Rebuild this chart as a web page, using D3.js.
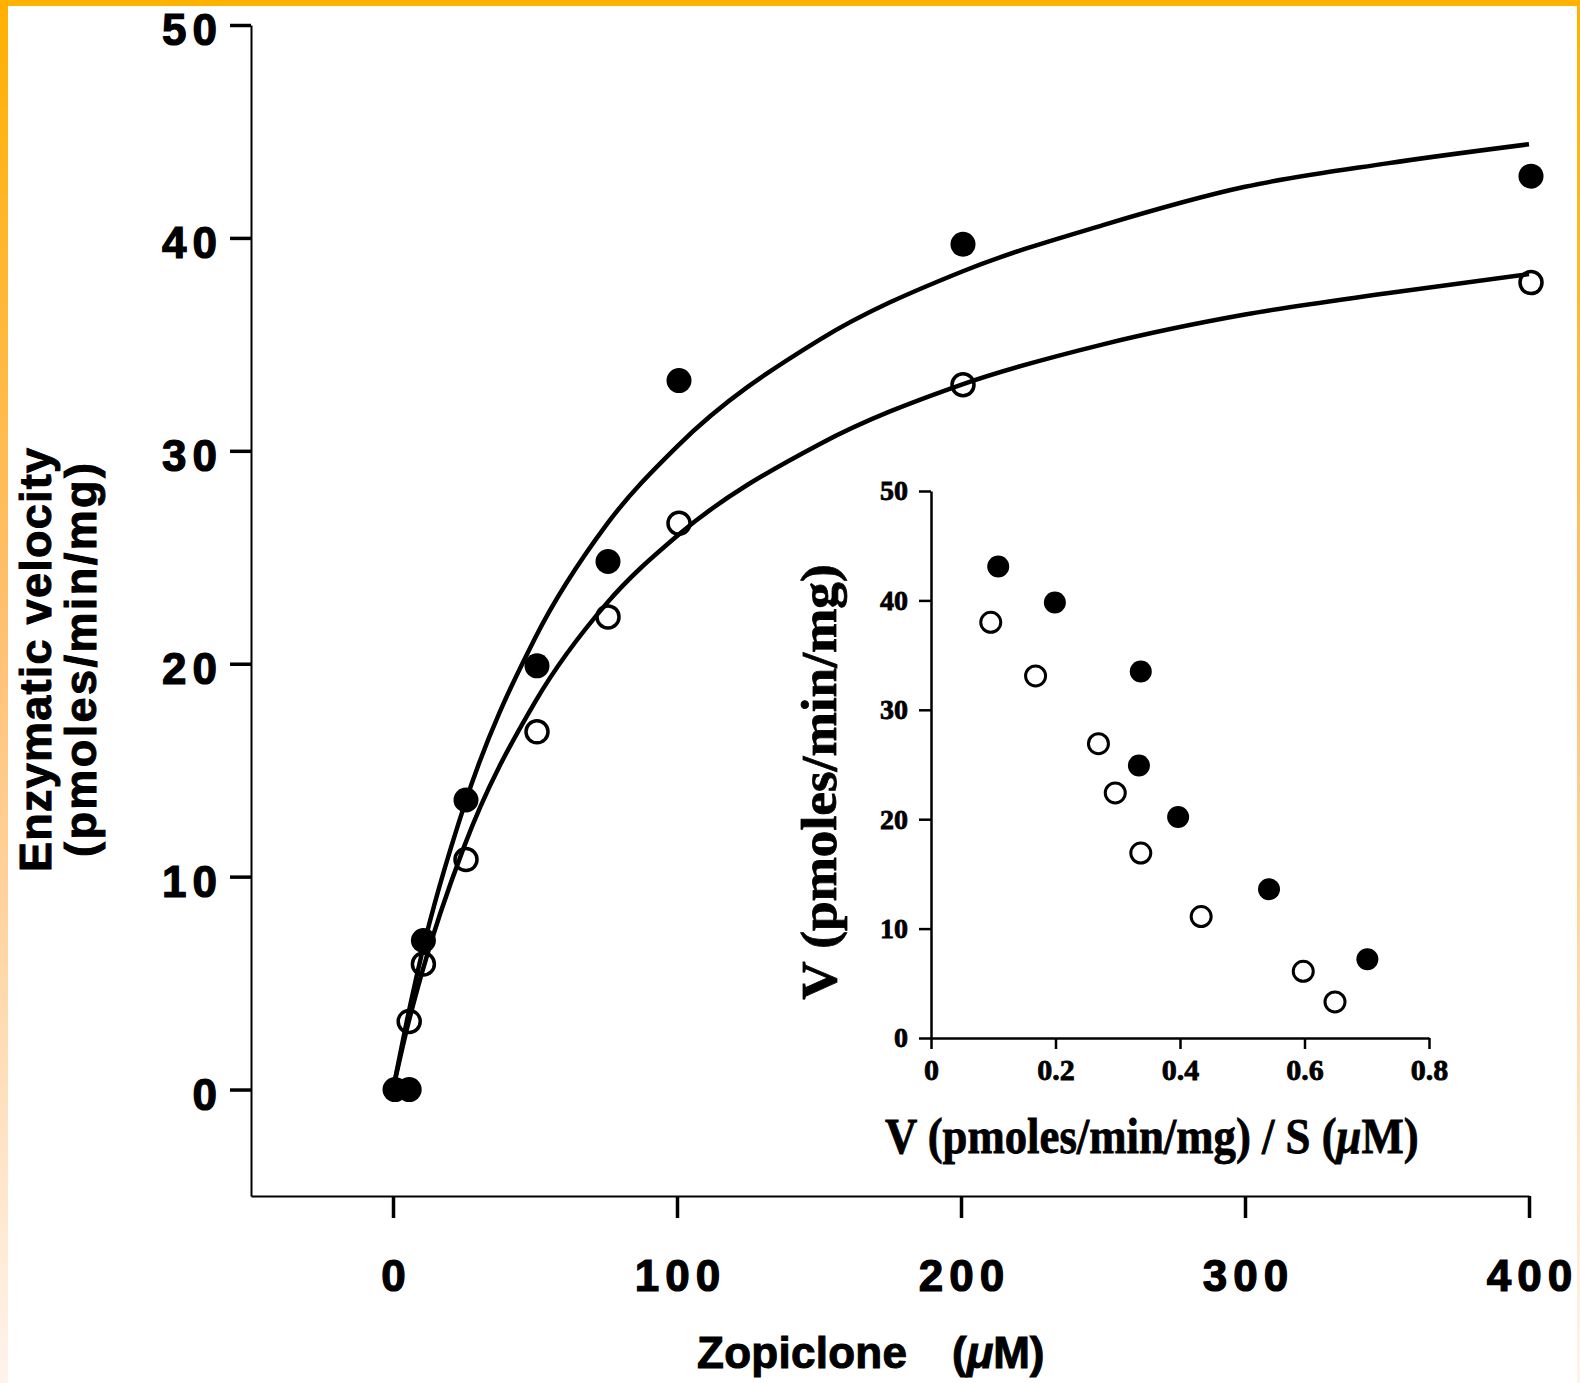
<!DOCTYPE html>
<html>
<head>
<meta charset="utf-8">
<script src="https://cdn.jsdelivr.net/npm/d3@7"></script>
<style>
  body { margin: 0; background: #fff; }
  svg { display: block; }
</style>
</head>
<body>
<div id="chart"></div>
<script>
// Main plot: velocity vs zopiclone concentration
const xTicks = [0, 100, 200, 300, 400];
const yTicks = [0, 10, 20, 30, 40, 50];

const filledS = [0, 5, 10, 25, 50, 75, 100, 200, 400];
const filledV = [0, 0, 7.0, 13.6, 19.9, 24.8, 33.3, 39.7, 42.9];
const openS = [5, 10, 25, 50, 75, 100, 200, 400];
const openV = [3.2, 5.9, 10.8, 16.8, 22.2, 26.6, 33.1, 37.9];

// fitted curves
const curveS = [0, 5, 10, 25, 50, 75, 100, 150, 200, 250, 300, 350, 400];
const curveFilled = [0, 3.3, 6.3, 13.3, 21.2, 26.5, 30.2, 35.2, 38.4, 40.6, 42.4, 43.5, 44.4];
const curveOpen = [0, 2.9, 5.4, 11.4, 18.2, 22.8, 26.0, 30.3, 33.1, 35.0, 36.4, 37.4, 38.3];

// Inset: Eadie-Hofstee plot
const insetXTicks = [0, 0.2, 0.4, 0.6, 0.8];
const insetYTicks = [0, 10, 20, 30, 40, 50];
const insetFilledX = [0.108, 0.199, 0.337, 0.334, 0.397, 0.543, 0.701];
const insetFilledY = [43.1, 39.8, 33.5, 24.9, 20.2, 13.6, 7.2];
const insetOpenX = [0.096, 0.168, 0.269, 0.296, 0.337, 0.434, 0.598, 0.649];
const insetOpenY = [38.0, 33.1, 26.9, 22.4, 16.9, 11.1, 6.1, 3.3];

const W = 1580, H = 1383;
const sans = "'Liberation Sans', Arial, Helvetica, sans-serif";
const serif = "'Liberation Serif', 'Times New Roman', serif";

const svg = d3.select("#chart")
  .append("svg")
  .attr("width", W)
  .attr("height", H);

svg.append("rect").attr("width", W).attr("height", H).attr("fill", "#fff");

// orange frame
const defs = svg.append("defs");
const grad = defs.append("linearGradient")
  .attr("id", "edge")
  .attr("x1", 0).attr("y1", 0).attr("x2", 0).attr("y2", 1);
grad.append("stop").attr("offset", "0%").attr("stop-color", "#ffb000");
grad.append("stop").attr("offset", "45%").attr("stop-color", "#ffc070");
grad.append("stop").attr("offset", "100%").attr("stop-color", "#fff3ec");
svg.append("rect").attr("x", 0).attr("y", 0).attr("width", W).attr("height", 6).attr("fill", "#ffb200");
svg.append("rect").attr("x", 0).attr("y", 0).attr("width", 8).attr("height", H).attr("fill", "url(#edge)");
svg.append("rect").attr("x", W - 3).attr("y", 0).attr("width", 3).attr("height", H).attr("fill", "url(#edge)");

// heavier lettering, like the scanned original
const heavy = (sel, w) => sel.attr("fill", "#000").attr("stroke", "#000").attr("stroke-width", w);

// ---- main scales
const x = d3.scaleLinear().domain([-50, 400]).range([251, 1529]);
const y = d3.scaleLinear().domain([-5, 50]).range([1196, 25]);

const xAxis = svg.append("g")
  .attr("transform", `translate(0,${y(-5)})`)
  .call(d3.axisBottom(x).tickValues(xTicks).tickSize(22).tickSizeOuter(0).tickPadding(42));
xAxis.select(".domain").attr("stroke-width", 2);
xAxis.selectAll(".tick line").attr("stroke-width", 3.5);
xAxis.selectAll(".tick text")
  .attr("font-family", sans)
  .attr("font-weight", "bold")
  .attr("font-size", 44)
  .attr("letter-spacing", 6)
  .attr("dx", 3)
  .call(heavy, 1.2);

const yAxis = svg.append("g")
  .attr("transform", `translate(${x(-50)},0)`)
  .call(d3.axisLeft(y).tickValues(yTicks).tickSize(21).tickSizeOuter(0).tickPadding(7));
yAxis.select(".domain").attr("stroke-width", 2);
yAxis.selectAll(".tick line").attr("stroke-width", 3.5);
yAxis.selectAll(".tick text")
  .attr("font-family", sans)
  .attr("font-weight", "bold")
  .attr("font-size", 44)
  .attr("letter-spacing", 6)
  .attr("dy", "0.45em")
  .call(heavy, 1.2);

// fitted curves
const line = d3.line()
  .x((d) => x(d[0]))
  .y((d) => y(d[1]))
  .curve(d3.curveMonotoneX);

[curveFilled, curveOpen].forEach((vals) => {
  svg.append("path")
    .datum(curveS.map((s, i) => [s, vals[i]]))
    .attr("fill", "none")
    .attr("stroke", "#000")
    .attr("stroke-width", 4.5)
    .attr("d", line);
});

// points
svg.append("g")
  .selectAll("circle")
  .data(openS.map((s, i) => [s, openV[i]]))
  .enter()
  .append("circle")
  .attr("cx", (d) => x(d[0]) + 2)
  .attr("cy", (d) => y(d[1]))
  .attr("r", 11)
  .attr("fill", "none")
  .attr("stroke", "#000")
  .attr("stroke-width", 3.5);

svg.append("g")
  .selectAll("circle")
  .data(filledS.map((s, i) => [s, filledV[i]]))
  .enter()
  .append("circle")
  .attr("cx", (d) => x(d[0]) + 2)
  .attr("cy", (d) => y(d[1]))
  .attr("r", 12.5)
  .attr("fill", "#000");

// axis titles
svg.append("text")
  .attr("x", 697).attr("y", 1368)
  .attr("font-family", sans).attr("font-weight", "bold").attr("font-size", 44)
  .attr("textLength", 210)
  .call(heavy, 1)
  .text("Zopiclone");
const unit = svg.append("text")
  .attr("x", 952).attr("y", 1368)
  .attr("font-family", sans).attr("font-weight", "bold").attr("font-size", 44)
  .call(heavy, 1);
unit.append("tspan").text("(");
unit.append("tspan").attr("font-style", "italic").text("μ");
unit.append("tspan").text("M)");

svg.append("text")
  .attr("transform", "translate(51,660) rotate(-90)")
  .attr("text-anchor", "middle")
  .attr("font-family", sans).attr("font-weight", "bold").attr("font-size", 45)
  .attr("textLength", 424)
  .call(heavy, 1)
  .text("Enzymatic velocity");
svg.append("text")
  .attr("transform", "translate(96,660) rotate(-90)")
  .attr("text-anchor", "middle")
  .attr("font-family", sans).attr("font-weight", "bold").attr("font-size", 45)
  .attr("textLength", 394)
  .call(heavy, 1)
  .text("(pmoles/min/mg)");

// ---- inset
const ix = d3.scaleLinear().domain([0, 0.8]).range([931, 1429]);
const iy = d3.scaleLinear().domain([0, 50]).range([1038, 491]);

const ixAxis = svg.append("g")
  .attr("transform", `translate(0,${iy(0)})`)
  .call(d3.axisBottom(ix).tickValues(insetXTicks).tickFormat((d) => d === 0 ? "0" : d3.format(".1f")(d))
    .tickSize(11).tickSizeOuter(0).tickPadding(10));
ixAxis.select(".domain").attr("stroke-width", 2.5);
ixAxis.selectAll(".tick line").attr("stroke-width", 2.5);
ixAxis.selectAll(".tick text")
  .attr("font-family", serif).attr("font-weight", "bold").attr("font-size", 30)
  .call(heavy, 0.8);

const iyAxis = svg.append("g")
  .attr("transform", `translate(${ix(0)},0)`)
  .call(d3.axisLeft(iy).tickValues(insetYTicks).tickSize(12).tickSizeOuter(0).tickPadding(11));
iyAxis.select(".domain").attr("stroke-width", 2.5);
iyAxis.selectAll(".tick line").attr("stroke-width", 2.5);
iyAxis.selectAll(".tick text")
  .attr("font-family", serif).attr("font-weight", "bold").attr("font-size", 28)
  .call(heavy, 0.8);

svg.append("g")
  .selectAll("circle")
  .data(insetOpenX.map((v, i) => [v, insetOpenY[i]]))
  .enter()
  .append("circle")
  .attr("cx", (d) => ix(d[0]))
  .attr("cy", (d) => iy(d[1]))
  .attr("r", 10)
  .attr("fill", "none")
  .attr("stroke", "#000")
  .attr("stroke-width", 3);

svg.append("g")
  .selectAll("circle")
  .data(insetFilledX.map((v, i) => [v, insetFilledY[i]]))
  .enter()
  .append("circle")
  .attr("cx", (d) => ix(d[0]))
  .attr("cy", (d) => iy(d[1]))
  .attr("r", 11)
  .attr("fill", "#000");

// condensed serif titles: squeeze with a horizontal scale instead of textLength
const ixTitle = svg.append("text")
  .attr("transform", "translate(885,1153) scale(0.895,1)")
  .attr("font-family", serif).attr("font-weight", "bold").attr("font-size", 50)
  .call(heavy, 0.8);
ixTitle.append("tspan").text("V (pmoles/min/mg) / S (");
ixTitle.append("tspan").attr("font-style", "italic").text("μ");
ixTitle.append("tspan").text("M)");

svg.append("text")
  .attr("transform", "translate(836,782) rotate(-90) scale(1.065,1)")
  .attr("text-anchor", "middle")
  .attr("font-family", serif).attr("font-weight", "bold").attr("font-size", 50)
  .call(heavy, 0.8)
  .text("V (pmoles/min/mg)");
</script>
</body>
</html>
